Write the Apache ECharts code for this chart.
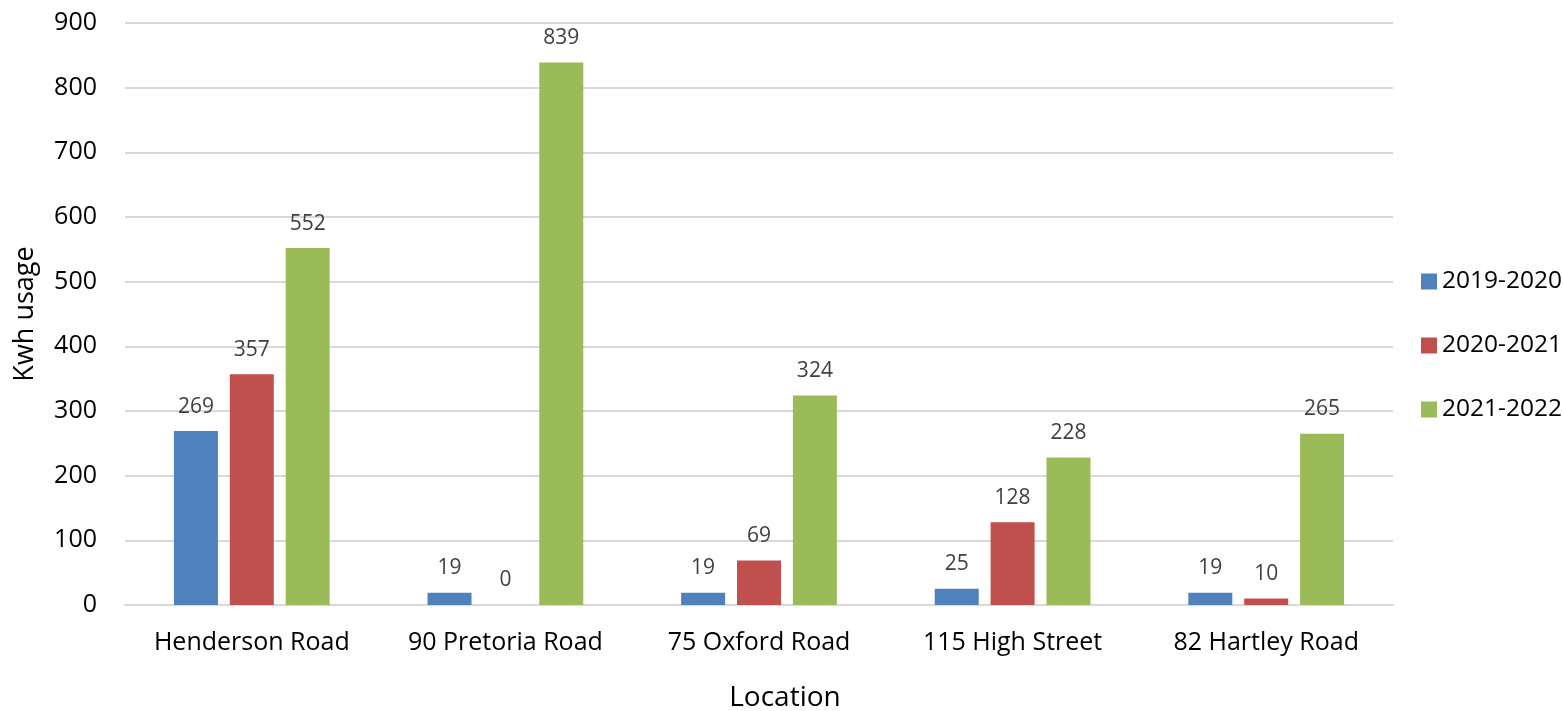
<!DOCTYPE html>
<html>
<head>
<meta charset="utf-8">
<script src="https://cdn.jsdelivr.net/npm/echarts@6/dist/echarts.min.js"></script>
<style>
  html, body { margin: 0; padding: 0; background: #fff; }
  #main { width: 1563px; height: 711px; }
</style>
</head>
<body>
<div id="main"></div>
<script>
  // data
  let locations = ['Henderson Road', '90 Pretoria Road', '75 Oxford Road', '115 High Street', '82 Hartley Road'];
  let years = ['2019-2020', '2020-2021', '2021-2022'];
  let usage1920 = [269, 19, 19, 25, 19];
  let usage2021 = [357, 0, 69, 128, 10];
  let usage2122 = [552, 839, 324, 228, 265];
  let yTicks = [0, 100, 200, 300, 400, 500, 600, 700, 800, 900];

  let colors = ['#4F81BD', '#C0504D', '#9BBB59'];
  let font = 'Open Sans, Noto Sans, sans-serif';

  let chart = echarts.init(document.getElementById('main'));

  function barSeries(name, data, color) {
    return {
      name: name,
      type: 'bar',
      data: data,
      barWidth: 44,
      barGap: '27%',
      itemStyle: { color: color },
      label: {
        show: true,
        position: 'top',
        distance: 14,
        color: '#404040',
        fontSize: 21,
        fontFamily: font
      }
    };
  }

  let option = {
    backgroundColor: '#fff',
    animation: false,
    color: colors,
    legend: {
      orient: 'vertical',
      left: 1416,
      top: 264,
      itemWidth: 16,
      itemHeight: 16,
      itemGap: 39,
      icon: 'rect',
      data: years,
      textStyle: { fontSize: 24.5, color: '#000', fontFamily: font }
    },
    grid: { left: 125, right: 170, top: 23, bottom: 106, outerBoundsMode: 'none', containLabel: false },
    xAxis: {
      type: 'category',
      data: locations,
      name: 'Location',
      nameLocation: 'middle',
      nameGap: 79,
      // excel centres the title a little right of the plot centre
      nameTextStyle: { fontSize: 28, color: '#000', fontFamily: font, padding: [0, 0, 0, 52] },
      axisTick: { show: false },
      axisLine: { lineStyle: { color: '#d9d9d9', width: 2 } },
      axisLabel: { fontSize: 25, color: '#000', margin: 25, interval: 0, fontFamily: font }
    },
    yAxis: {
      type: 'value',
      min: yTicks[0],
      max: yTicks[yTicks.length - 1],
      interval: 100,
      name: 'Kwh usage',
      nameLocation: 'middle',
      nameGap: 86,
      nameTextStyle: { fontSize: 27, color: '#000', fontFamily: font },
      axisLine: { show: false },
      axisTick: { show: false },
      axisLabel: { fontSize: 25, color: '#000', margin: 28, fontFamily: font },
      splitLine: { lineStyle: { color: '#d9d9d9', width: 2 } }
    },
    series: [
      barSeries(years[0], usage1920, colors[0]),
      barSeries(years[1], usage2021, colors[1]),
      barSeries(years[2], usage2122, colors[2])
    ]
  };
  chart.setOption(option);
</script>
</body>
</html>
